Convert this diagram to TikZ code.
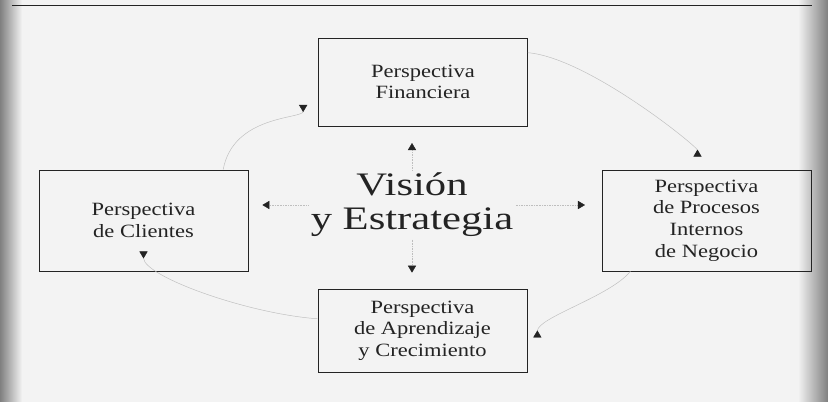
\documentclass[tikz,border=0pt]{standalone}
\usepackage{fontspec}
\setmainfont[FakeStretch=1.2]{Liberation Serif}
\newfontfamily\visfont[FakeStretch=1.3]{Liberation Serif}
\usetikzlibrary{arrows.meta}
\definecolor{scanink}{RGB}{35,35,35}
\definecolor{scanfaint}{RGB}{190,190,190}
\definecolor{scanpaper}{RGB}{243,243,243}
\begin{document}
\begin{tikzpicture}[x=0.03cm, y=-0.03cm,
  every node/.style={font=\fontsize{16}{18.5}\selectfont, text=scanink},
  persp/.style={draw=scanink, line width=0.6pt, minimum width=6.27cm, align=center, inner sep=0pt},
  spoke/.style={draw=scanfaint, densely dotted, -{Triangle[length=6pt,width=7pt,color=scanink]}},
  loopline/.style={draw=scanfaint, {Triangle[reversed,length=6pt,width=7pt,color=scanink]}-}]
\useasboundingbox (0,0) rectangle (828,402);
% scanned page look
\fill[scanpaper] (0,0) rectangle (828,402);
\fill[left color=black!50, right color=scanpaper] (0,0) rectangle (22,402);
\fill[left color=scanpaper, right color=black!50] (798,0) rectangle (828,402);
\draw[scanink, line width=0.8pt] (12,5) -- (812,5);
% perspectives
\node[persp, minimum height=2.64cm] (fin) at (423,82) {Perspectiva\\Financiera};
\node[persp, minimum height=3.03cm] (cli) at (143.5,220.5) {Perspectiva\\de Clientes};
\node[persp, minimum height=3.03cm] (pro) at (706.5,220.5) {Perspectiva\\de Procesos\\Internos\\de Negocio};
\node[persp, minimum height=2.49cm] (apr) at (422.5,330.5) {Perspectiva\\de Aprendizaje\\y Crecimiento};
\node[align=center, inner sep=2pt, font=\visfont\fontsize{28}{29}\selectfont] (vis) at (412,205) {Visión\\y Estrategia};
% from the centre
\draw[spoke, shorten >=0.5cm] (vis.north) -- (vis.north |- fin.south);
\draw[spoke, shorten >=0.42cm] (vis.west) -- (cli.east |- vis.west);
\draw[spoke, shorten >=0.5cm] (vis.east) -- (pro.west |- vis.east);
\draw[spoke, shorten >=0.48cm] (vis.south) -- (vis.south |- apr.north);
% round the boxes
\draw[loopline] ([shift={(-15,23)}]fin.west) .. controls +(0,14) and +(10,-55) .. ([xshift=68]cli.north);
\draw[loopline] ([yshift=17]cli.south) .. controls +(0,25) and +(-70,-5) .. ([yshift=10]apr.west);
\draw[loopline] ([shift={(10,7)}]apr.east) .. controls +(0,-20) and +(-20,25) .. ([xshift=-65]pro.south);
\draw[loopline] ([shift={(-9,-13)}]pro.north) .. controls +(0,-10) and +(60,5) .. ([yshift=25]fin.east);
\end{tikzpicture}
\end{document}
